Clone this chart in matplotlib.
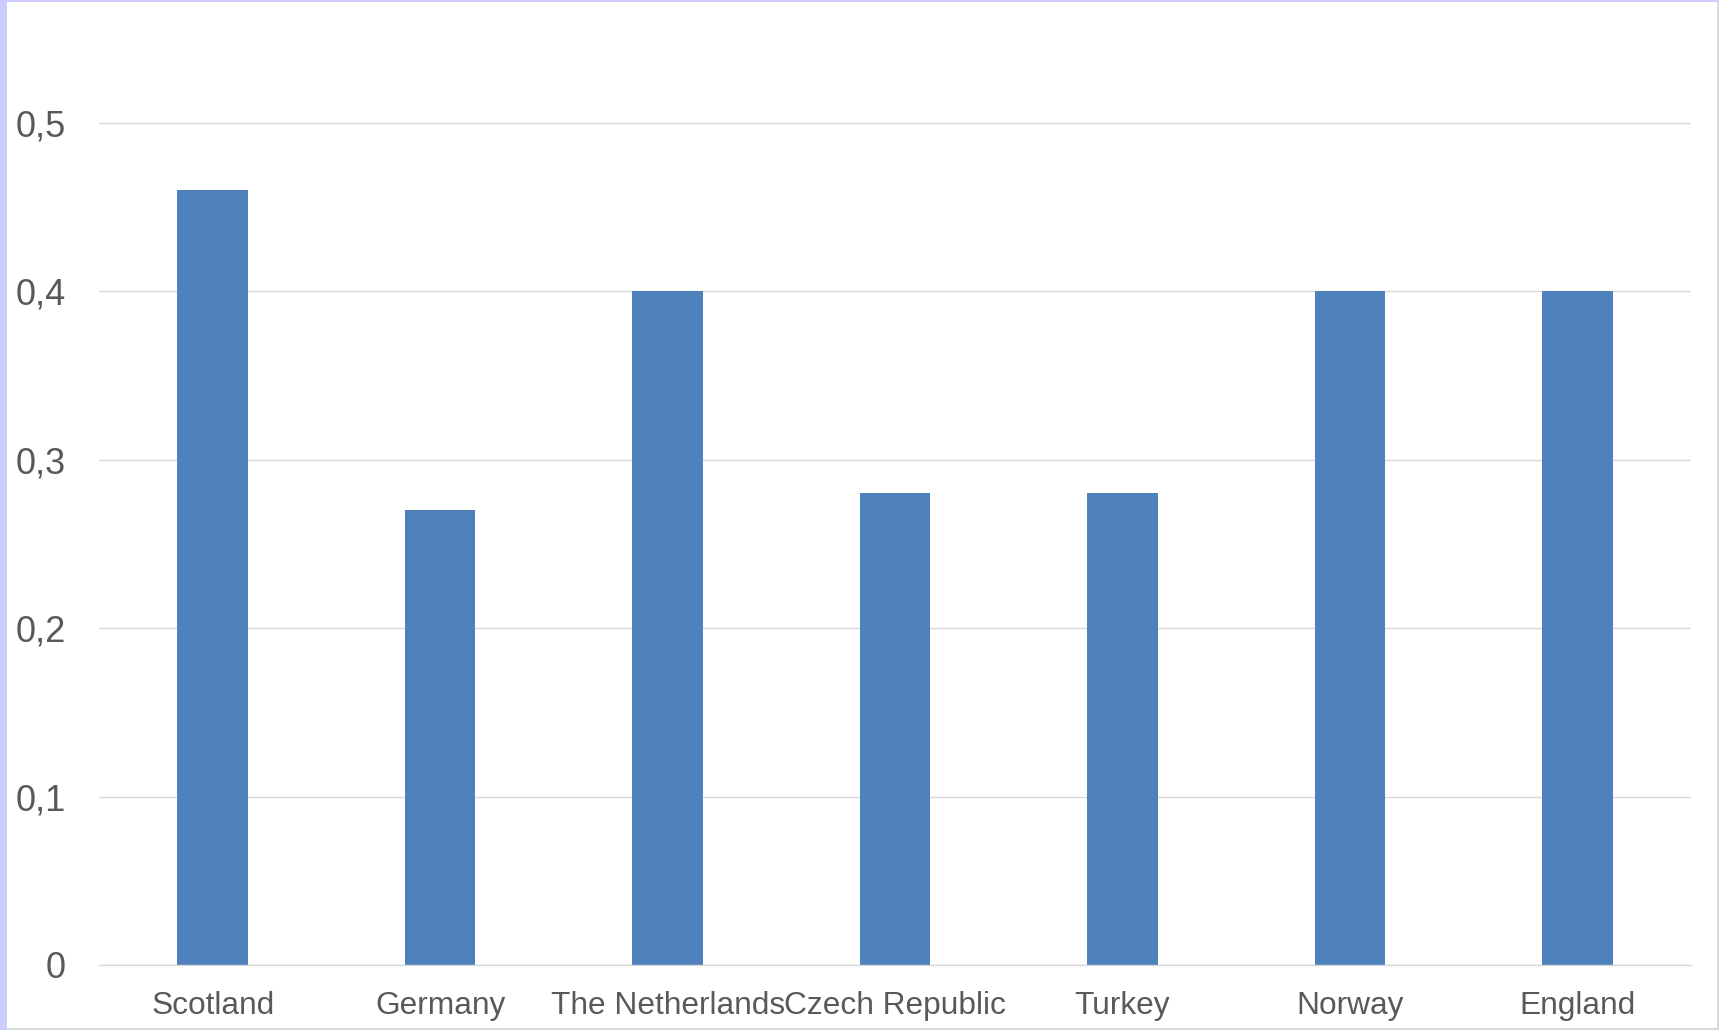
import matplotlib
matplotlib.use("Agg")
import matplotlib.pyplot as plt
from matplotlib.patches import Rectangle

categories = ["Scotland", "Germany", "The Netherlands", "Czech Republic", "Turkey", "Norway", "England"]
values = [0.46, 0.27, 0.40, 0.28, 0.28, 0.40, 0.40]
ytick_values = [0, 0.1, 0.2, 0.3, 0.4, 0.5]
ytick_labels = ["0", "0,1", "0,2", "0,3", "0,4", "0,5"]

W, H = 1719, 1030
fig = plt.figure(figsize=(W / 100, H / 100), dpi=100)
fig.patch.set_facecolor("white")

# frame decorations
fig.add_artist(Rectangle((0, 0), 7 / W, 1, transform=fig.transFigure, color="#CCCCFF", lw=0))
fig.add_artist(Rectangle((0, 1 - 2 / H), 1, 2 / H, transform=fig.transFigure, color="#CCCCFF", lw=0))
fig.add_artist(Rectangle((1 - 2 / W, 0), 2 / W, 1, transform=fig.transFigure, color="#D9D9D9", lw=0))
fig.add_artist(Rectangle((7 / W, 0), 1, 2 / H, transform=fig.transFigure, color="#D9D9D9", lw=0))

left, right = 99, 1691
bottom, top = 965, 21.6
ax = fig.add_axes([left / W, 1 - bottom / H, (right - left) / W, (bottom - top) / H])
ax.set_facecolor("none")

x = range(len(categories))
ax.bar(x, values, width=0.31, color="#4F81BD", zorder=3)
ax.set_xlim(-0.5, len(categories) - 0.5)
ax.set_ylim(0, 0.56)

ax.set_yticks(ytick_values)
ax.set_yticklabels(ytick_labels)
ax.set_xticks(list(x))
ax.set_xticklabels(categories)

for t in ax.get_yticklabels():
    t.set_fontfamily("Liberation Sans")
    t.set_fontsize(26)
    t.set_color("#595959")
for t in ax.get_xticklabels():
    t.set_fontfamily("Liberation Sans")
    t.set_fontsize(22.8)
    t.set_color("#595959")

ax.tick_params(axis="y", length=0, pad=24)
ax.tick_params(axis="x", length=0, pad=18.5)

ax.grid(axis="y", color="#D9D9D9", linewidth=1.0, zorder=0)
for s in ["top", "right", "left"]:
    ax.spines[s].set_visible(False)
ax.spines["bottom"].set_color("#D9D9D9")
ax.spines["bottom"].set_linewidth(1.0)
ax.spines["bottom"].set_zorder(4)

fig.savefig("out.png", dpi=100, facecolor="white")
